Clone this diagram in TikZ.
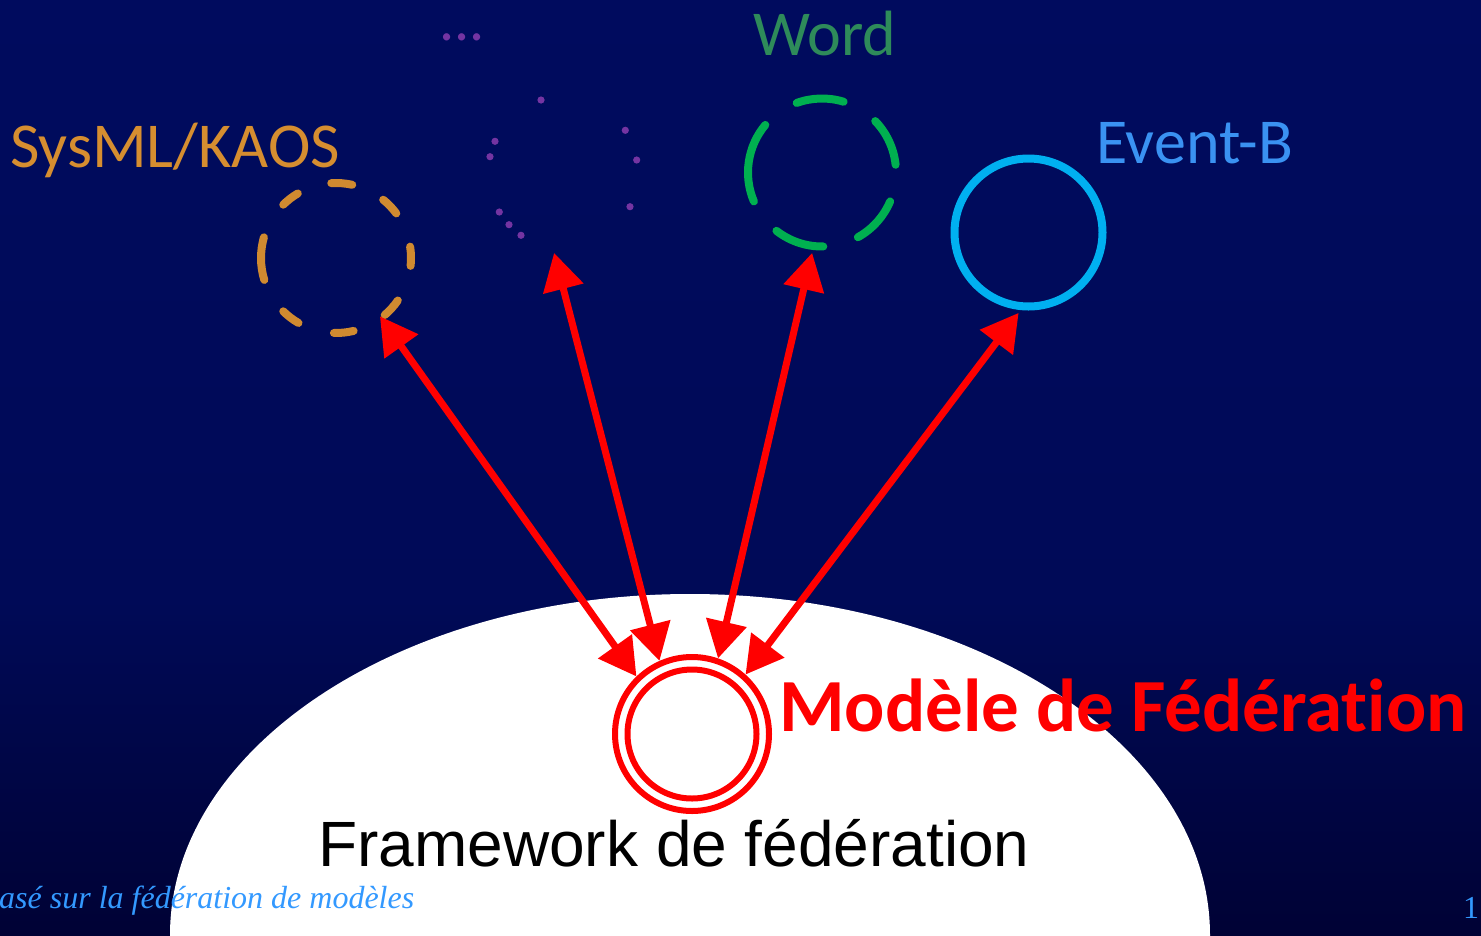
\documentclass[tikz,border=0pt]{standalone}
\usepackage{fontspec}
\setmainfont{Carlito}[Ligatures=NoCommon]
\newfontfamily\arialfont{Liberation Sans}
\newfontfamily\timesfont{Liberation Serif}
\usetikzlibrary{arrows.meta}

\definecolor{bgtop}{HTML}{000B5E}
\definecolor{bgmid}{HTML}{000A57}
\definecolor{bgbot}{HTML}{000235}
\definecolor{sysmlc}{HTML}{D08A30}
\definecolor{sysmltxt}{HTML}{D68E30}
\definecolor{dotc}{HTML}{7434A2}
\definecolor{wordc}{HTML}{00B050}
\definecolor{wordtxt}{HTML}{2E8B5A}
\definecolor{eventc}{HTML}{00B0F0}
\definecolor{eventtxt}{HTML}{3A92F2}
\definecolor{foottxt}{HTML}{3399FF}

\tikzset{
  anchorring/.style={circle, inner sep=0pt, outer sep=0pt},
  dasharc/.style={line width=8pt, line cap=round},
  link/.style={draw=red, line width=7pt,
    arrows={Triangle[length=37pt,width=40pt]-Triangle[length=37pt,width=40pt]}},
  label/.style={inner sep=0pt, anchor=base west},
}

\begin{document}
\begin{tikzpicture}[x=1pt,y=-1pt]
\useasboundingbox (0,0) rectangle (1481,935);

% background
\shade[top color=bgtop, bottom color=bgmid] (0,0) rectangle (1481,601);
\shade[top color=bgmid, bottom color=bgbot] (0,600) rectangle (1481,935);

% white dome of the framework
\begin{scope}
  \clip (0,0) rectangle (1481,935);
  \fill[white] (690,935) ellipse[x radius=520, y radius=341];
\end{scope}

% model nodes
\node[anchorring, minimum size=146pt] (sysml) at (336,258) {};
\node[anchorring, minimum size=163pt] (dots) at (564,172) {};
\node[anchorring, minimum size=162pt] (word) at (822,172.5) {};
\node[circle, draw=eventc, line width=8pt, inner sep=0pt, outer sep=7pt,
      minimum size=148pt] (eventb) at (1028.5,232.5) {};
\node[circle, draw=red, fill=white, line width=6pt, inner sep=0pt,
      minimum size=154pt] (fed) at (692,734) {};
\draw[red, line width=6pt] (fed.center) circle[radius=64.5];

% dashed outline of SysML/KAOS
\foreach \a/\b in {354/368.7, 36.5/51, 77.5/93.6, 120.6/134.7, 164/197,
                   225.3/240, 268.4/283.6, 310.5/325.5}
  \draw[dasharc, sysmlc] (sysml.center) ++(-\a:75)
    arc[start angle=-\a, end angle=-\b, radius=75];

% dashed outline of Word
\foreach \a/\b in {6/44, 73/110, 140/203, 232/271, 299/337}
  \draw[dasharc, wordc] (word.center) ++(-\a:74)
    arc[start angle=-\a, end angle=-\b, radius=74];

% scattered dots of the unnamed model
\foreach \p in {(541,100), (495,141.3), (490,156.7), (625.3,130.3),
                (636.7,160), (630,206.7), (499.3,212), (509,224.7), (521,235.3)}
  \fill[dotc] \p circle[radius=3.6];

% links to the federation model
\draw[link] (sysml.-53.4) -- (fed.134);
\draw[link] (dots.-97.7) -- (fed.114.7);
\draw[link] (word.-97.8) -- (fed.71.8);
\draw[link] (eventb.-97) -- (fed.48);

% labels
\node[label, text=sysmltxt, font=\fontsize{64}{64}\selectfont] (tsysml) at (10,167) {SysML/KAOS};
\node[inner sep=0pt, anchor=base, text=dotc, text height=8pt, text depth=0pt,
      font=\fontsize{60}{60}\selectfont] (tdots) at (462,40) {...};
\node[label, text=wordtxt, font=\fontsize{64}{64}\selectfont] (tword) at (753,55) {Word};
\node[label, text=eventtxt, font=\fontsize{64}{64}\selectfont] (tevent) at (1096,163) {Event-B};
\node[label, text=red, font=\fontsize{75}{75}\selectfont\bfseries] (tfed) at (779,731) {Modèle de Fédération};
\node[inner sep=0pt, anchor=base, text=black, font=\arialfont\fontsize{64}{64}\selectfont] (tframe) at (674,866) {Framework de fédération};
\node[label, text=foottxt, font=\timesfont\itshape\fontsize{32}{32}\selectfont] (tfoot) at (-1,908) {asé sur la fédération de modèles};
\node[label, text=foottxt, font=\timesfont\fontsize{32}{32}\selectfont] (tpage) at (1463,918) {1};
\end{tikzpicture}
\end{document}
